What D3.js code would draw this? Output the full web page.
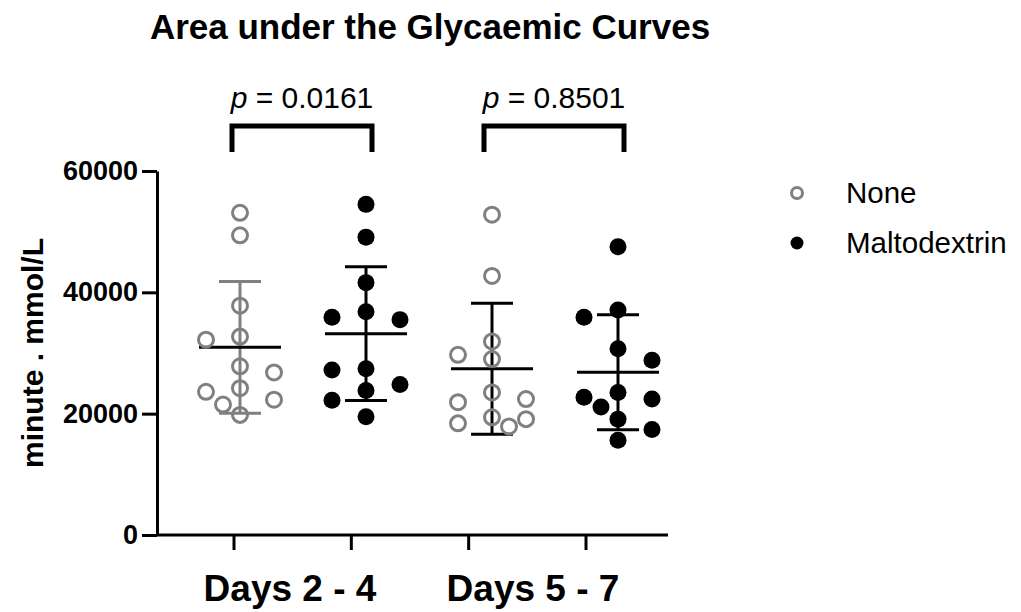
<!DOCTYPE html>
<html>
<head>
<meta charset="utf-8">
<script src="https://cdnjs.cloudflare.com/ajax/libs/d3/7.8.5/d3.min.js"></script>
<style>
  body { margin: 0; background: #fff; }
  text { font-family: Arial, "Liberation Sans", Helvetica, sans-serif; }
</style>
</head>
<body>
<div id="graph"></div>
<script>
// groups along the x axis
var days = ["Days 2 - 4", "Days 5 - 7"];
var treatments = ["None", "Maltodextrin"];

// AUC values (minute . mmol/L)
var noneDays24 = [53100, 49400, 37800, 32700, 32200, 27800, 26800, 24200, 23600, 22300, 21500, 19800];
var maltoDays24 = [54500, 49100, 41600, 36800, 35900, 35500, 27400, 27200, 24800, 23800, 22200, 19500];
var noneDays57 = [52800, 42700, 31900, 29700, 29000, 23500, 22400, 21900, 19400, 19100, 18400, 17900];
var maltoDays57 = [47500, 37100, 35900, 30700, 28800, 23500, 22700, 22400, 21100, 19100, 17400, 15600];

var pValues = ["0.0161", "0.8501"];
var yTicks = [0, 20000, 40000, 60000];

var width = 1021;
var height = 612;
var grey = "#808080";

var groups = [
    { day: 0, treat: 0, values: noneDays24 },
    { day: 0, treat: 1, values: maltoDays24 },
    { day: 1, treat: 0, values: noneDays57 },
    { day: 1, treat: 1, values: maltoDays57 }
];

var svg = d3.select("#graph")
    .append("svg")
    .attr("width", width)
    .attr("height", height);

// scales
var y = d3.scaleLinear().domain([0, 60000]).range([535, 171]);
var xData = d3.scalePoint().domain([0, 1, 2, 3]).range([240, 618]);   // where the dots sit
var xTick = d3.scalePoint().domain([0, 1, 2, 3]).range([234, 586]);   // where the ticks sit
var xDay = d3.scalePoint().domain(days).range([290, 533]);

// title
svg.append("text")
    .attr("x", 430)
    .attr("y", 39)
    .attr("text-anchor", "middle")
    .style("font-size", "35px")
    .style("font-weight", "bold")
    .text("Area under the Glycaemic Curves");

// y axis
var yAxis = svg.append("g")
    .attr("transform", "translate(157,0)")
    .call(d3.axisLeft(y).tickValues(yTicks).tickSize(15).tickSizeOuter(0).tickPadding(4).tickFormat(d3.format("d")));
yAxis.select(".domain").attr("stroke-width", 3);
yAxis.selectAll(".tick line").attr("stroke-width", 3);
yAxis.selectAll(".tick text")
    .style("font-size", "27px")
    .style("font-weight", "bold")
    .attr("fill", "#000");

svg.append("text")
    .attr("transform", "translate(43," + y(30000) + ") rotate(-90)")
    .attr("text-anchor", "middle")
    .style("font-size", "30px")
    .style("font-weight", "bold")
    .text("minute . mmol/L");

// x axis
svg.append("line")
    .attr("x1", 156).attr("x2", 668)
    .attr("y1", y(0)).attr("y2", y(0))
    .attr("stroke", "#000").attr("stroke-width", 3);

svg.append("g").selectAll(".xtick")
    .data([0, 1, 2, 3]).enter()
    .append("line")
    .attr("x1", d => xTick(d)).attr("x2", d => xTick(d))
    .attr("y1", y(0)).attr("y2", y(0) + 15)
    .attr("stroke", "#000").attr("stroke-width", 3);

svg.append("g").selectAll(".dayLabel")
    .data(days).enter()
    .append("text")
    .attr("x", d => xDay(d))
    .attr("y", 601)
    .attr("text-anchor", "middle")
    .style("font-size", "37px")
    .style("font-weight", "bold")
    .text(d => d);

// scatter layout: dots go top to bottom into a few columns (centre first, then
// the outer columns, then the half steps), keeping the sides balanced
function swarm(values) {
    var D = 17;
    var slots = [0, -34, 34, -17, 17];
    var placed = [];
    values.slice().sort((a, b) => b - a).forEach(function(v) {
        var py = y(v);
        var minDist = function(s) {
            return d3.min(placed, p => Math.hypot(p.dx - s, p.y - py)) || Infinity;
        };
        var side = function(s) {
            return placed.filter(p => Math.sign(p.dx) === Math.sign(s)).length;
        };
        var order = slots.slice().sort((a, b) => side(a) - side(b) || a - b);
        order = [0].concat(order.filter(s => Math.abs(s) === 34), order.filter(s => Math.abs(s) === 17));
        var dx = order.find(s => minDist(s) >= D);
        if (dx === undefined) dx = order.reduce((best, s) => minDist(s) > minDist(best) ? s : best, 0);
        placed.push({ v: v, y: py, dx: dx });
    });
    return placed;
}

// error bars (mean +/- SD) and mean line
groups.forEach(function(g, i) {
    var cx = xData(i);
    var m = d3.mean(g.values);
    var sd = d3.deviation(g.values);
    var barColor = (i === 0) ? grey : "#000";
    var eb = svg.append("g");
    eb.append("line")
        .attr("x1", cx).attr("x2", cx)
        .attr("y1", y(m + sd)).attr("y2", y(m - sd))
        .attr("stroke", barColor).attr("stroke-width", 3);
    [m + sd, m - sd].forEach(function(v) {
        eb.append("line")
            .attr("x1", cx - 21).attr("x2", cx + 21)
            .attr("y1", y(v)).attr("y2", y(v))
            .attr("stroke", barColor).attr("stroke-width", 3);
    });
    eb.append("line")
        .attr("x1", cx - 41).attr("x2", cx + 41)
        .attr("y1", y(m)).attr("y2", y(m))
        .attr("stroke", "#000").attr("stroke-width", 3);

    // dots
    svg.append("g").selectAll("circle")
        .data(swarm(g.values)).enter()
        .append("circle")
        .attr("cx", d => cx + d.dx)
        .attr("cy", d => d.y)
        .attr("r", g.treat === 0 ? 7.5 : 8.5)
        .attr("fill", g.treat === 0 ? "none" : "#000")
        .attr("stroke", g.treat === 0 ? grey : "none")
        .attr("stroke-width", 3);
});

// significance brackets
pValues.forEach(function(p, i) {
    var x1 = xData(i * 2) - 8;
    var x2 = xData(i * 2 + 1) + 6;
    svg.append("path")
        .attr("d", "M" + x1 + ",152 V126 H" + x2 + " V152")
        .attr("fill", "none")
        .attr("stroke", "#000")
        .attr("stroke-width", 5);
    var t = svg.append("text")
        .attr("x", (x1 + x2) / 2)
        .attr("y", 108)
        .attr("text-anchor", "middle")
        .style("font-size", "30px");
    t.append("tspan").style("font-style", "italic").text("p");
    t.append("tspan").text(" = " + p);
});

// legend
var legend = svg.append("g").attr("transform", "translate(797,0)");
treatments.forEach(function(tr, i) {
    var ly = 193 + i * 50;
    legend.append("circle")
        .attr("cx", 0).attr("cy", ly)
        .attr("r", i === 0 ? 5.5 : 6.5)
        .attr("fill", i === 0 ? "none" : "#000")
        .attr("stroke", i === 0 ? grey : "none")
        .attr("stroke-width", 3);
    legend.append("text")
        .attr("x", 49).attr("y", ly + 10)
        .style("font-size", "29.5px")
        .text(tr);
});
</script>
</body>
</html>
